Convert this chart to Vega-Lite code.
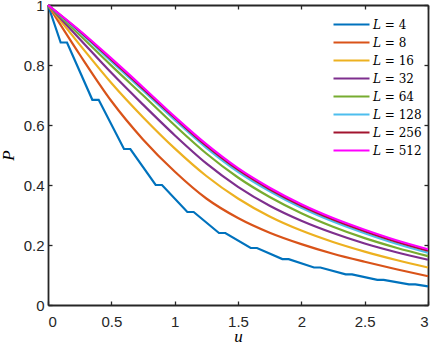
{
  "$schema": "https://vega.github.io/schema/vega-lite/v6.json",
  "width": 380,
  "height": 300,
  "autosize": {"type": "none"},
  "padding": {"left": 48, "top": 5, "right": 8, "bottom": 40},
  "background": "white",
  "config": {
    "view": {"stroke": null},
    "axis": {
      "grid": false,
      "domainColor": "#262626",
      "domainWidth": 1.8,
      "tickColor": "#262626",
      "tickWidth": 1.3,
      "tickSize": -4,
      "labelColor": "#262626",
      "labelFont": "Liberation Sans",
      "labelFontSize": 15,
      "titleFont": "Liberation Serif",
      "titleFontStyle": "italic",
      "titleFontWeight": "normal",
      "titleFontSize": 17,
      "titleColor": "#000000",
      "zindex": 1
    },
    "legend": {
      "orient": "none",
      "legendX": 296,
      "legendY": 12,
      "title": null,
      "padding": 0,
      "symbolType": "M-3,0H3",
      "symbolSize": 144,
      "symbolStrokeWidth": 2.2,
      "symbolFillColor": "transparent",
      "labelFont": "DejaVu Serif",
      "labelFontSize": 12,
      "labelColor": "#000000",
      "labelOffset": 14,
      "rowPadding": 4
    }
  },
  "datasets": {
    "curves": [
      {"L": 4, "u": 0, "P": 1}, {"L": 4, "u": 0.1, "P": 0.875}, {"L": 4, "u": 0.15, "P": 0.875},
      {"L": 4, "u": 0.35, "P": 0.684}, {"L": 4, "u": 0.4, "P": 0.684}, {"L": 4, "u": 0.6, "P": 0.52},
      {"L": 4, "u": 0.65, "P": 0.52}, {"L": 4, "u": 0.85, "P": 0.4}, {"L": 4, "u": 0.9, "P": 0.4},
      {"L": 4, "u": 1.1, "P": 0.31}, {"L": 4, "u": 1.15, "P": 0.31}, {"L": 4, "u": 1.35, "P": 0.24},
      {"L": 4, "u": 1.4, "P": 0.24}, {"L": 4, "u": 1.6, "P": 0.19}, {"L": 4, "u": 1.65, "P": 0.19},
      {"L": 4, "u": 1.85, "P": 0.153}, {"L": 4, "u": 1.9, "P": 0.153}, {"L": 4, "u": 2.1, "P": 0.125},
      {"L": 4, "u": 2.15, "P": 0.125}, {"L": 4, "u": 2.35, "P": 0.102}, {"L": 4, "u": 2.4, "P": 0.102},
      {"L": 4, "u": 2.6, "P": 0.084}, {"L": 4, "u": 2.65, "P": 0.084}, {"L": 4, "u": 2.85, "P": 0.069},
      {"L": 4, "u": 2.9, "P": 0.069}, {"L": 4, "u": 3.0, "P": 0.062},

      {"L": 8, "u": 0, "P": 1}, {"L": 8, "u": 0.25, "P": 0.835}, {"L": 8, "u": 0.5, "P": 0.68},
      {"L": 8, "u": 0.75, "P": 0.552}, {"L": 8, "u": 1.0, "P": 0.445}, {"L": 8, "u": 1.25, "P": 0.355},
      {"L": 8, "u": 1.5, "P": 0.29}, {"L": 8, "u": 1.75, "P": 0.241}, {"L": 8, "u": 2.0, "P": 0.203},
      {"L": 8, "u": 2.25, "P": 0.171}, {"L": 8, "u": 2.5, "P": 0.144}, {"L": 8, "u": 2.75, "P": 0.119},
      {"L": 8, "u": 3.0, "P": 0.096},

      {"L": 16, "u": 0, "P": 1}, {"L": 16, "u": 0.25, "P": 0.868}, {"L": 16, "u": 0.5, "P": 0.74},
      {"L": 16, "u": 0.75, "P": 0.626}, {"L": 16, "u": 1.0, "P": 0.522}, {"L": 16, "u": 1.25, "P": 0.43},
      {"L": 16, "u": 1.5, "P": 0.355}, {"L": 16, "u": 1.75, "P": 0.295}, {"L": 16, "u": 2.0, "P": 0.248},
      {"L": 16, "u": 2.25, "P": 0.21}, {"L": 16, "u": 2.5, "P": 0.178}, {"L": 16, "u": 2.75, "P": 0.15},
      {"L": 16, "u": 3.0, "P": 0.125},

      {"L": 32, "u": 0, "P": 1}, {"L": 32, "u": 0.25, "P": 0.887}, {"L": 32, "u": 0.5, "P": 0.774},
      {"L": 32, "u": 0.75, "P": 0.668}, {"L": 32, "u": 1.0, "P": 0.566}, {"L": 32, "u": 1.25, "P": 0.472},
      {"L": 32, "u": 1.5, "P": 0.394}, {"L": 32, "u": 1.75, "P": 0.331}, {"L": 32, "u": 2.0, "P": 0.281},
      {"L": 32, "u": 2.25, "P": 0.24}, {"L": 32, "u": 2.5, "P": 0.205}, {"L": 32, "u": 2.75, "P": 0.176},
      {"L": 32, "u": 3.0, "P": 0.151},

      {"L": 64, "u": 0, "P": 1}, {"L": 64, "u": 0.25, "P": 0.9}, {"L": 64, "u": 0.5, "P": 0.798},
      {"L": 64, "u": 0.75, "P": 0.699}, {"L": 64, "u": 1.0, "P": 0.599}, {"L": 64, "u": 1.25, "P": 0.505},
      {"L": 64, "u": 1.5, "P": 0.425}, {"L": 64, "u": 1.75, "P": 0.36}, {"L": 64, "u": 2.0, "P": 0.306},
      {"L": 64, "u": 2.25, "P": 0.261}, {"L": 64, "u": 2.5, "P": 0.223}, {"L": 64, "u": 2.75, "P": 0.191},
      {"L": 64, "u": 3.0, "P": 0.163},

      {"L": 128, "u": 0, "P": 1}, {"L": 128, "u": 0.25, "P": 0.909}, {"L": 128, "u": 0.5, "P": 0.812},
      {"L": 128, "u": 0.75, "P": 0.715}, {"L": 128, "u": 1.0, "P": 0.617}, {"L": 128, "u": 1.25, "P": 0.524},
      {"L": 128, "u": 1.5, "P": 0.444}, {"L": 128, "u": 1.75, "P": 0.379}, {"L": 128, "u": 2.0, "P": 0.324},
      {"L": 128, "u": 2.25, "P": 0.278}, {"L": 128, "u": 2.5, "P": 0.239}, {"L": 128, "u": 2.75, "P": 0.204},
      {"L": 128, "u": 3.0, "P": 0.174},

      {"L": 256, "u": 0, "P": 1}, {"L": 256, "u": 0.25, "P": 0.913}, {"L": 256, "u": 0.5, "P": 0.818},
      {"L": 256, "u": 0.75, "P": 0.721}, {"L": 256, "u": 1.0, "P": 0.624}, {"L": 256, "u": 1.25, "P": 0.531},
      {"L": 256, "u": 1.5, "P": 0.451}, {"L": 256, "u": 1.75, "P": 0.386}, {"L": 256, "u": 2.0, "P": 0.331},
      {"L": 256, "u": 2.25, "P": 0.285}, {"L": 256, "u": 2.5, "P": 0.246}, {"L": 256, "u": 2.75, "P": 0.211},
      {"L": 256, "u": 3.0, "P": 0.181},

      {"L": 512, "u": 0, "P": 1}, {"L": 512, "u": 0.25, "P": 0.915}, {"L": 512, "u": 0.5, "P": 0.822},
      {"L": 512, "u": 0.75, "P": 0.726}, {"L": 512, "u": 1.0, "P": 0.628}, {"L": 512, "u": 1.25, "P": 0.536},
      {"L": 512, "u": 1.5, "P": 0.456}, {"L": 512, "u": 1.75, "P": 0.391}, {"L": 512, "u": 2.0, "P": 0.336},
      {"L": 512, "u": 2.25, "P": 0.29}, {"L": 512, "u": 2.5, "P": 0.251}, {"L": 512, "u": 2.75, "P": 0.216},
      {"L": 512, "u": 3.0, "P": 0.186}
    ]
  },
  "data": {"name": "curves"},
  "encoding": {
    "color": {
      "field": "L",
      "type": "nominal",
      "scale": {
        "domain": [4, 8, 16, 32, 64, 128, 256, 512],
        "range": ["#0072BD", "#D95319", "#EDB120", "#7E2F8E", "#77AC30", "#4DBEEE", "#A2142F", "#FF00FF"]
      },
      "legend": {"labelExpr": "'𝐿 = ' + datum.label"}
    }
  },
  "layer": [
    {
      "transform": [{"filter": "datum.L == 4"}],
      "mark": {"type": "line", "strokeWidth": 2.2, "interpolate": "linear"},
      "encoding": {
        "x": {
          "field": "u", "type": "quantitative",
          "scale": {"domain": [0, 3], "nice": false, "zero": false},
          "axis": {"orient": "bottom", "values": [0, 0.5, 1, 1.5, 2, 2.5, 3], "format": "~g", "labelPadding": 13, "title": "u", "titlePadding": -1}
        },
        "y": {
          "field": "P", "type": "quantitative",
          "scale": {"domain": [0, 1], "nice": false},
          "axis": {"orient": "left", "values": [0, 0.2, 0.4, 0.6, 0.8, 1], "format": "~g", "labelPadding": 8, "title": "P", "titlePadding": 6}
        }
      }
    },
    {
      "transform": [{"filter": "datum.L != 4"}],
      "mark": {"type": "line", "strokeWidth": 2.2, "interpolate": "monotone"},
      "encoding": {
        "x": {
          "field": "u", "type": "quantitative",
          "axis": {"orient": "top", "values": [0, 0.5, 1, 1.5, 2, 2.5, 3], "labels": false, "title": null}
        },
        "y": {
          "field": "P", "type": "quantitative",
          "axis": {"orient": "right", "values": [0, 0.2, 0.4, 0.6, 0.8, 1], "labels": false, "title": null}
        }
      }
    }
  ],
  "resolve": {"axis": {"x": "independent", "y": "independent"}}
}
